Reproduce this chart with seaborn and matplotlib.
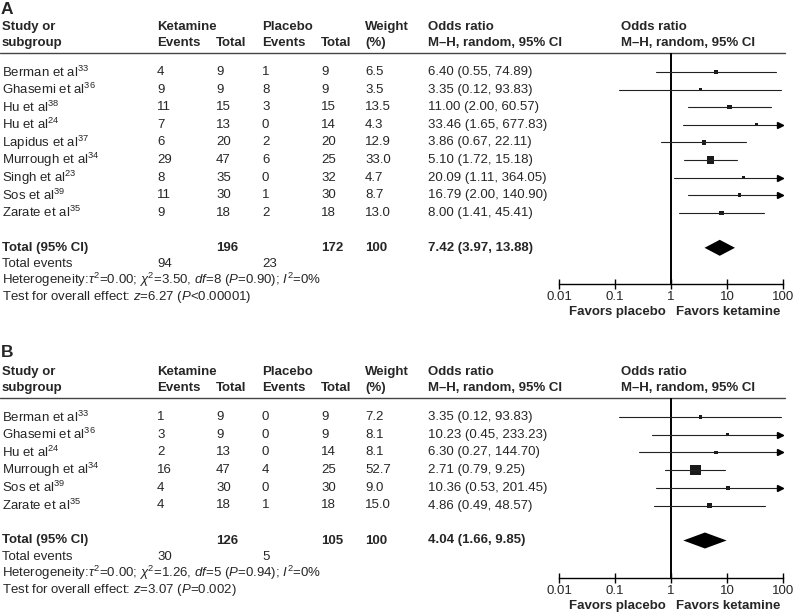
import matplotlib
matplotlib.use("Agg")
import matplotlib.pyplot as plt
import numpy as np
import pandas as pd
import seaborn as sns

sns.set_theme(style="white")
plt.rcParams["font.family"] = ["Liberation Sans", "DejaVu Sans"]
plt.rcParams["mathtext.fontset"] = "custom"
plt.rcParams["mathtext.rm"] = "Liberation Sans"
plt.rcParams["mathtext.it"] = "Liberation Sans:italic"
plt.rcParams["mathtext.bf"] = "Liberation Sans:bold"

# ---- panel A data ----
studies_a = ["Berman et al", "Ghasemi et al", "Hu et al", "Hu et al", "Lapidus et al",
             "Murrough et al", "Singh et al", "Sos et al", "Zarate et al"]
refs_a = [33, 36, 38, 24, 37, 34, 23, 39, 35]
ket_events_a = [4, 9, 11, 7, 6, 29, 8, 11, 9]
ket_total_a = [9, 9, 15, 13, 20, 47, 35, 30, 18]
pla_events_a = [1, 8, 3, 0, 2, 6, 0, 1, 2]
pla_total_a = [9, 9, 15, 14, 20, 25, 32, 30, 18]
weight_a = [6.5, 3.5, 13.5, 4.3, 12.9, 33.0, 4.7, 8.7, 13.0]
or_a = [6.40, 3.35, 11.00, 33.46, 3.86, 5.10, 20.09, 16.79, 8.00]
lo_a = [0.55, 0.12, 2.00, 1.65, 0.67, 1.72, 1.11, 2.00, 1.41]
hi_a = [74.89, 93.83, 60.57, 677.83, 22.11, 15.18, 364.05, 140.90, 45.41]
total_a = {"ket_total": 196, "pla_total": 172, "weight": 100, "or": 7.42, "lo": 3.97, "hi": 13.88,
           "ket_events": 94, "pla_events": 23}
het_a = r"Heterogeneity:$\tau^2$=0.00; $\chi^2$=3.50, $df$=8 ($P$=0.90); $I^2$=0%"
test_a = r"Test for overall effect: $z$=6.27 ($P$<0.00001)"

# ---- panel B data ----
studies_b = ["Berman et al", "Ghasemi et al", "Hu et al", "Murrough et al", "Sos et al", "Zarate et al"]
refs_b = [33, 36, 24, 34, 39, 35]
ket_events_b = [1, 3, 2, 16, 4, 4]
ket_total_b = [9, 9, 13, 47, 30, 18]
pla_events_b = [0, 0, 0, 4, 0, 1]
pla_total_b = [9, 9, 14, 25, 30, 18]
weight_b = [7.2, 8.1, 8.1, 52.7, 9.0, 15.0]
or_b = [3.35, 10.23, 6.30, 2.71, 10.36, 4.86]
lo_b = [0.12, 0.45, 0.27, 0.79, 0.53, 0.49]
hi_b = [93.83, 233.23, 144.70, 9.25, 201.45, 48.57]
total_b = {"ket_total": 126, "pla_total": 105, "weight": 100, "or": 4.04, "lo": 1.66, "hi": 9.85,
           "ket_events": 30, "pla_events": 5}
het_b = r"Heterogeneity:$\tau^2$=0.00; $\chi^2$=1.26, $df$=5 ($P$=0.94); $I^2$=0%"
test_b = r"Test for overall effect: $z$=3.07 ($P$=0.002)"

tick_vals = [0.01, 0.1, 1, 10, 100]
tick_labels = ["0.01", "0.1", "1", "10", "100"]

W, H = 794, 615
FS = 9.5
fig = plt.figure(figsize=(W / 100, H / 100), dpi=100)
bg = fig.add_axes([0, 0, 1, 1])
bg.set_xlim(0, W)
bg.set_ylim(H, 0)
bg.axis("off")

# column x positions (pixels)
X_NAME, X_KE, X_KT, X_PE, X_PT, X_W, X_OR, X_OR2 = 2, 157, 216, 262, 321, 365, 428, 621
X_MIN, X_MAX = 559, 783


def panel(label, label_y, top, row0, step, studies, refs, ke, kt, pe, pt, w, orv, lo, hi, tot, het, test, axis_y):
    bg.text(1, label_y, label, fontsize=12.5, fontweight="bold", va="center")
    h1, h2 = top + 15, top + 31
    rule = top + 41
    bold = dict(fontsize=FS, fontweight="bold", va="center")
    bg.text(X_NAME, h1, "Study or", **bold)
    bg.text(X_NAME, h2, "subgroup", **bold)
    bg.text(X_KE, h1, "Ketamine", **bold)
    bg.text(X_KE, h2, "Events", **bold)
    bg.text(X_KT, h2, "Total", **bold)
    bg.text(X_PE, h1, "Placebo", **bold)
    bg.text(X_PE, h2, "Events", **bold)
    bg.text(X_PT, h2, "Total", **bold)
    bg.text(X_W, h1, "Weight", **bold)
    bg.text(X_W, h2, "(%)", **bold)
    bg.text(X_OR, h1, "Odds ratio", **bold)
    bg.text(X_OR, h2, "M–H, random, 95% CI", **bold)
    bg.text(X_OR2, h1, "Odds ratio", **bold)
    bg.text(X_OR2, h2, "M–H, random, 95% CI", **bold)
    bg.plot([0, 785], [rule, rule], color="#444444", lw=1.0)

    n = len(studies)
    ys = [row0 + i * step for i in range(n)]
    norm = dict(fontsize=FS, va="center")
    for i in range(n):
        y = ys[i]
        bg.text(X_NAME, y, f"{studies[i]}$^{{{refs[i]}}}$", **norm)
        bg.text(X_KE, y, str(ke[i]), **norm)
        bg.text(X_KT, y, str(kt[i]), **norm)
        bg.text(X_PE, y, str(pe[i]), **norm)
        bg.text(X_PT, y, str(pt[i]), **norm)
        bg.text(X_W, y, f"{w[i]:.1f}", **norm)
        bg.text(X_OR, y, f"{orv[i]:.2f} ({lo[i]:.2f}, {hi[i]:.2f})", **norm)

    ty = ys[-1] + 35
    bg.text(X_NAME, ty, "Total (95% CI)", **bold)
    bg.text(X_KT, ty, str(tot["ket_total"]), **bold)
    bg.text(X_PT, ty, str(tot["pla_total"]), **bold)
    bg.text(X_W, ty, str(tot["weight"]), **bold)
    bg.text(X_OR, ty, f"{tot['or']:.2f} ({tot['lo']:.2f}, {tot['hi']:.2f})", **bold)
    bg.text(X_NAME, ty + 16, "Total events", **norm)
    bg.text(X_KE, ty + 16, str(tot["ket_events"]), **norm)
    bg.text(X_PE, ty + 16, str(tot["pla_events"]), **norm)
    bg.text(X_NAME, ty + 32.5, het, **norm)
    bg.text(X_NAME, ty + 49, test, **norm)

    # forest plot axes, y in figure pixels
    ax = fig.add_axes([X_MIN / W, 1 - axis_y / H, (X_MAX - X_MIN) / W, (axis_y - rule) / H])
    ax.set_facecolor("none")
    ax.set_xscale("log")
    ax.set_xlim(0.01, 100)
    ax.set_ylim(axis_y, rule)
    for s in ["top", "right", "left"]:
        ax.spines[s].set_visible(False)
    ax.spines["bottom"].set_color("black")
    ax.spines["bottom"].set_linewidth(1.0)
    ax.set_xticks(tick_vals)
    ax.set_xticklabels(tick_labels, fontsize=FS)
    ax.xaxis.set_minor_locator(matplotlib.ticker.NullLocator())
    ax.tick_params(axis="x", direction="inout", length=7, width=1.0, pad=1.5, color="black", bottom=True)
    ax.set_yticks([])
    ax.axvline(1, color="black", lw=1.4)

    for i in range(n):
        left = max(lo[i], 0.01)
        right = min(hi[i], 100)
        ax.plot([left, right], [ys[i], ys[i]], color="#222222", lw=0.8, clip_on=False)
        if hi[i] > 100:
            ax.plot([90], [ys[i]], marker=">", color="black", markersize=5, clip_on=False)

    df = pd.DataFrame({"or": orv, "y": ys, "w": w})
    sizes = {v: ((2.3 + 0.16 * v) * 0.72) ** 2 for v in w}
    sns.scatterplot(data=df, x="or", y="y", size="w", sizes=sizes, marker="s", color="#1a1a1a",
                    linewidth=0, legend=False, ax=ax, clip_on=False)
    ax.set_xlabel("")
    ax.set_ylabel("")

    dx = [tot["lo"], tot["or"], tot["hi"], tot["or"]]
    dy = [ty, ty - 8, ty, ty + 8]
    ax.fill(dx, dy, color="black", lw=0)

    fy = axis_y + 28
    bg.text(666, fy, "Favors placebo", ha="right", **bold)
    bg.text(676, fy, "Favors ketamine", ha="left", **bold)


panel("A", 9, 12, 72, 17.6, studies_a, refs_a, ket_events_a, ket_total_a, pla_events_a, pla_total_a,
      weight_a, or_a, lo_a, hi_a, total_a, het_a, test_a, 284)
panel("B", 352.5, 357, 417, 17.7, studies_b, refs_b, ket_events_b, ket_total_b, pla_events_b, pla_total_b,
      weight_b, or_b, lo_b, hi_b, total_b, het_b, test_b, 578)

fig.savefig("out.png", dpi=100)
